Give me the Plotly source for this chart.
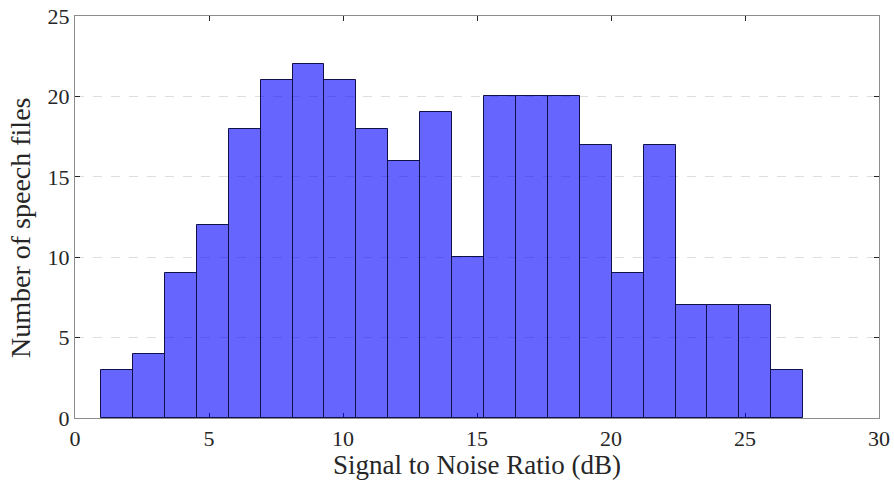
import plotly.graph_objects as go

# Histogram of SNR values: bin edges and counts
bin_start = 0.97
bin_width = 1.191
counts = [3, 4, 9, 12, 18, 21, 22, 21, 18, 16, 19, 10, 20, 20, 20, 17, 9, 17, 7, 7, 7, 3]

centers = [bin_start + bin_width * (i + 0.5) for i in range(len(counts))]

x_ticks = [0, 5, 10, 15, 20, 25, 30]
y_ticks = [0, 5, 10, 15, 20, 25]

font_family = "Liberation Serif"
text_color = "#262626"

fig = go.Figure(
    go.Bar(
        x=centers,
        y=counts,
        width=bin_width,
        marker=dict(color="rgba(0,0,255,0.6)", line=dict(color="#10104a", width=1)),
        hoverinfo="x+y",
    )
)

axis_common = dict(
    showline=True,
    linecolor="#8c8c8c",
    linewidth=1.2,
    mirror="ticks",
    ticks="inside",
    ticklen=5,
    tickwidth=1.2,
    tickcolor=text_color,
    tickfont=dict(family=font_family, size=22, color=text_color),
    zeroline=False,
    automargin=False,
    layer="below traces",
)

fig.update_xaxes(
    range=[0, 30],
    tickvals=x_ticks,
    showgrid=False,
    title=dict(text="Signal to Noise Ratio (dB)", font=dict(family=font_family, size=27, color=text_color), standoff=2),
    **axis_common,
)
fig.update_yaxes(
    range=[0, 25],
    tickvals=y_ticks,
    showgrid=True,
    gridcolor="#dedede",
    griddash="dash",
    gridwidth=1,
    **axis_common,
)

# Y-axis title placed as a rotated annotation left of the tick labels
fig.add_annotation(
    text="Number of speech files",
    textangle=-90,
    xref="paper", yref="paper",
    x=0, y=0.5,
    xanchor="center", yanchor="middle",
    xshift=-55, yshift=-11,
    showarrow=False,
    font=dict(family=font_family, size=28, color=text_color),
)

fig.update_layout(
    template="none",
    width=894,
    height=486,
    margin=dict(l=75, r=15, t=16, b=68),
    paper_bgcolor="white",
    plot_bgcolor="white",
    bargap=0,
    showlegend=False,
)

fig.write_html("out.html")
